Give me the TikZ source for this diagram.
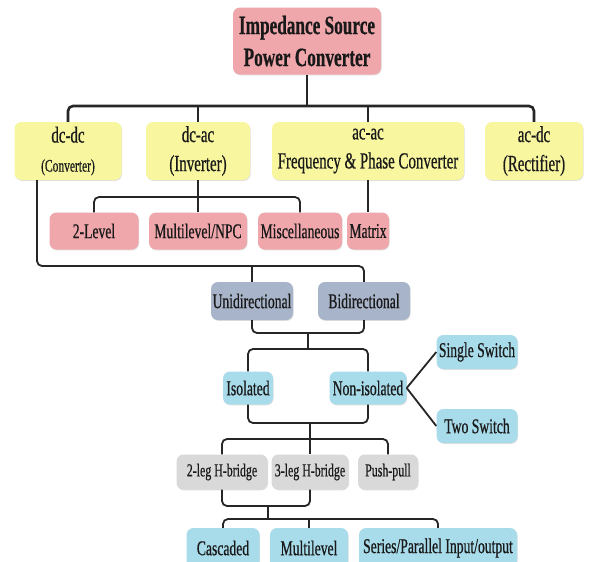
\documentclass[tikz,border=0pt]{standalone}
\usepackage{fontspec}
\setmainfont{Liberation Serif}[FakeStretch=0.65, FakeBold=0.6]
\usetikzlibrary{calc, positioning}
\usetikzlibrary{shadows}

\definecolor{pinkfill}{HTML}{F0A7AC}
\definecolor{yellowfill}{HTML}{F8F7A0}
\definecolor{slatefill}{HTML}{A8B4C9}
\definecolor{cyanfill}{HTML}{A9DCEB}
\definecolor{grayfill}{HTML}{D9D9D9}

\begin{document}
\begin{tikzpicture}[x=1pt, y=-1pt,
  box/.style={rounded corners=7pt, align=center, inner sep=1pt, text=black!90,
    drop shadow={shadow xshift=0.6pt, shadow yshift=-0.9pt, opacity=0.25}},
  pinkbox/.style={box, fill=pinkfill, font=\fontsize{21}{23}\selectfont},
  yellowbox/.style={box, fill=yellowfill, font=\fontsize{23}{29}\selectfont},
  slatebox/.style={box, fill=slatefill, font=\fontsize{21}{23}\selectfont},
  cyanbox/.style={box, fill=cyanfill, font=\fontsize{21}{23}\selectfont},
  graybox/.style={box, fill=grayfill, font=\fontsize{18.3}{20}\selectfont},
  link/.style={line width=1.8pt, rounded corners=5pt, black!85},
  mainlink/.style={link, line width=2.6pt}]
\useasboundingbox (0,0) rectangle (589,562);
\fill[white] (0,0) rectangle (589,562);

\node[pinkbox, minimum width=148pt, minimum height=67pt, font=\bfseries\fontsize{26.5}{32}\selectfont] (top) at (307,41) {Impedance Source\\Power Converter};

\node[yellowbox, minimum width=107pt, minimum height=58pt] (dcdc) at (68,151) {dc-dc\\{\fontsize{17.7}{29}\selectfont(Converter)}};
\node[yellowbox, minimum width=104pt, minimum height=58pt] (dcac) at (198,151) {dc-ac\\(Inverter)};
\node[yellowbox, minimum width=192pt, minimum height=58pt] (acac) at (368,151) {ac-ac\\Frequency \& Phase Converter};
\node[yellowbox, minimum width=98pt, minimum height=58pt] (acdc) at (534,151) {ac-dc\\(Rectifier)};

\node[pinkbox, minimum width=89pt, minimum height=37pt] (twolevel) at (94,231) {2-Level};
\node[pinkbox, minimum width=98pt, minimum height=37pt] (mlnpc) at (198,231) {Multilevel/NPC};
\node[pinkbox, minimum width=84pt, minimum height=37pt] (misc) at (300,231) {Miscellaneous};
\node[pinkbox, minimum width=42pt, minimum height=37pt] (matrix) at (368,231) {Matrix};

\node[slatebox, minimum width=82pt, minimum height=38pt] (uni) at (252,301) {Unidirectional};
\node[slatebox, minimum width=92pt, minimum height=38pt] (bi) at (364,301) {Bidirectional};

\node[cyanbox, minimum width=50pt, minimum height=33pt] (iso) at (248,388) {Isolated};
\node[cyanbox, minimum width=77pt, minimum height=33pt] (noniso) at (368,388) {Non-isolated};
\node[cyanbox, minimum width=81pt, minimum height=34pt] (single) at (477,352) {Single Switch};
\node[cyanbox, minimum width=81pt, minimum height=34pt] (twosw) at (477,426) {Two Switch};

\node[graybox, minimum width=91pt, minimum height=35pt] (legtwo) at (222,472) {2-leg H-bridge};
\node[graybox, minimum width=77pt, minimum height=35pt] (legthree) at (310,472) {3-leg H-bridge};
\node[graybox, minimum width=60pt, minimum height=35pt] (pushpull) at (388,472) {Push-pull};

\node[cyanbox, minimum width=73pt, minimum height=40pt] (casc) at (223,548) {Cascaded};
\node[cyanbox, minimum width=78pt, minimum height=40pt] (multi) at (309,548) {Multilevel};
\node[cyanbox, minimum width=158pt, minimum height=40pt] (serpar) at (438,548) {Series/Parallel Input/output};

\coordinate (topbar) at (307,106);
\coordinate (invbar) at (198,197);
\coordinate (dirbar) at (252,266);
\coordinate (dirlow) at (308,333);
\coordinate (isobar) at (308,349);
\coordinate (isolow) at (310,423);
\coordinate (legbar) at (310,439);
\coordinate (leglow) at (268,506);
\coordinate (outbar) at (268,519);

\draw[mainlink] (dcdc.north) |- (topbar) -| (acdc.north);
\draw[mainlink] (top.south) -- (topbar);
\draw[mainlink] (dcac.north) -- (dcac.north |- topbar);
\draw[mainlink] (acac.north) -- (acac.north |- topbar);

\draw[link] (twolevel.north) |- (invbar) -| (misc.north);
\draw[link] (dcac.south) -- (mlnpc.north);
\draw[link] (acac.south) -- (matrix.north);

\draw[link] ([xshift=-31pt]dcdc.south) |- (dirbar) -| (bi.north);
\draw[link] (dirbar) -- (uni.north);

\draw[link] (uni.south) |- (dirlow) -| (bi.south);
\draw[link] (dirlow) -- (isobar);
\draw[link] (iso.north) |- (isobar) -| (noniso.north);

\draw[link] (noniso.east) -- (single.west);
\draw[link] (noniso.east) -- (twosw.west);

\draw[link] (iso.south) |- (isolow) -| (noniso.south);
\draw[link] (isolow) -- (legthree.north);
\draw[link] (legtwo.north) |- (legbar) -| (pushpull.north);

\draw[link] (legtwo.south) |- (leglow) -| (legthree.south);
\draw[link] (leglow) -- (outbar);
\draw[link] (casc.north) |- (outbar) -| (serpar.north);
\draw[link] (multi.north) -- (multi.north |- outbar);
\end{tikzpicture}
\end{document}
